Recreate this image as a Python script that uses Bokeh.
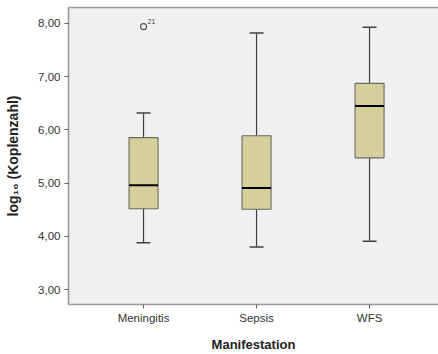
from bokeh.plotting import figure
from bokeh.models import (Range1d, FixedTicker, CustomJSTickFormatter, ColumnDataSource,
                          LinearAxis)
from bokeh.core.properties import value
from bokeh.embed import file_html
from bokeh.resources import INLINE

# ---- data ----
categories = ["Meningitis", "Sepsis", "WFS"]
whisker_low = [3.88, 3.80, 3.91]
q1 = [4.52, 4.51, 5.475]
median = [4.96, 4.91, 6.45]
q3 = [5.855, 5.89, 6.875]
whisker_high = [6.32, 7.82, 7.93]
outlier_cat = ["Meningitis"]
outlier_val = [7.94]
outlier_lbl = ["21"]
y_ticks = [3, 4, 5, 6, 7, 8]

xpos = [i + 1 for i in range(len(categories))]
box_w = 0.257
cap_hw = 0.062

src = ColumnDataSource(dict(
    x=xpos, lo=whisker_low, q1=q1, med=median, q3=q3, hi=whisker_high,
    x0=[x - cap_hw for x in xpos], x1=[x + cap_hw for x in xpos],
    bx0=[x - box_w / 2 for x in xpos], bx1=[x + box_w / 2 for x in xpos],
))
osrc = ColumnDataSource(dict(
    x=[xpos[categories.index(c)] for c in outlier_cat], y=outlier_val, t=outlier_lbl,
))

p = figure(width=438, height=354, output_backend="svg", toolbar_location=None,
           x_range=Range1d(0.336, 3.61), y_range=Range1d(2.72, 8.30),
           min_border_left=68, min_border_right=0, min_border_top=7,
           min_border_bottom=48)

xax = p.below[0]
yax = p.left[0]

p.background_fill_color = "#F0F0F0"
p.border_fill_color = "white"
p.outline_line_color = None
p.grid.visible = False

frame_col = "#9A9A9A"
# top border of the frame drawn as a bare axis line
top = LinearAxis(axis_line_color=frame_col, axis_line_width=1.6,
                 major_tick_line_color=None, minor_tick_line_color=None,
                 major_label_text_font_size="0px", major_label_standoff=0)
top.ticker = FixedTicker(ticks=[])
p.add_layout(top, "above")

line_col = "#404040"
# whiskers
p.segment(x0="x", y0="lo", x1="x", y1="q1", source=src, line_color=line_col, line_width=1.2)
p.segment(x0="x", y0="q3", x1="x", y1="hi", source=src, line_color=line_col, line_width=1.2)
# caps
p.segment(x0="x0", y0="lo", x1="x1", y1="lo", source=src, line_color=line_col, line_width=1.5)
p.segment(x0="x0", y0="hi", x1="x1", y1="hi", source=src, line_color=line_col, line_width=1.5)
# boxes
p.vbar(x="x", width=box_w, bottom="q1", top="q3", source=src,
       fill_color="#D5D09B", line_color="#6A6A60", line_width=1.1)
# medians
p.segment(x0="bx0", y0="med", x1="bx1", y1="med", source=src, line_color="black", line_width=2)
# outlier
p.scatter(x="x", y="y", source=osrc, marker="circle", size=6, fill_color=None,
          line_color="#555555", line_width=1.1)
p.text(x="x", y="y", text="t", source=osrc, x_offset=4, y_offset=-3,
       text_font=value("Liberation Sans"), text_font_size="7px",
       text_color="#444444", text_align="left", text_baseline="bottom")

# axes
for ax in (xax, yax):
    ax.axis_line_color = frame_col
    ax.axis_line_width = 1.6
    ax.major_tick_line_color = "#606060"
    ax.major_tick_out = 4
    ax.major_tick_in = 0
    ax.minor_tick_line_color = None
    ax.major_label_text_font = "Liberation Sans"
    ax.major_label_text_font_size = "11.5px"
    ax.major_label_text_color = "#333333"
    ax.axis_label_text_font = "Liberation Sans"
    ax.axis_label_text_font_style = "bold"
    ax.axis_label_text_font_size = "13px"
    ax.axis_label_text_color = "#222222"

xax.ticker = FixedTicker(ticks=xpos)
xax.major_label_overrides = {x: c for x, c in zip(xpos, categories)}
xax.major_label_standoff = 3
xax.axis_label = "Manifestation"
xax.axis_label_standoff = 10

yax.ticker = FixedTicker(ticks=y_ticks)
yax.formatter = CustomJSTickFormatter(code="return tick.toFixed(2).replace('.', ',');")
yax.major_label_standoff = 4
yax.axis_label = "log\u2081\u2080 (Koplenzahl)"
yax.axis_label_text_font_size = "14px"
yax.axis_label_standoff = 14

open("out.html", "w").write(file_html(p, INLINE))
